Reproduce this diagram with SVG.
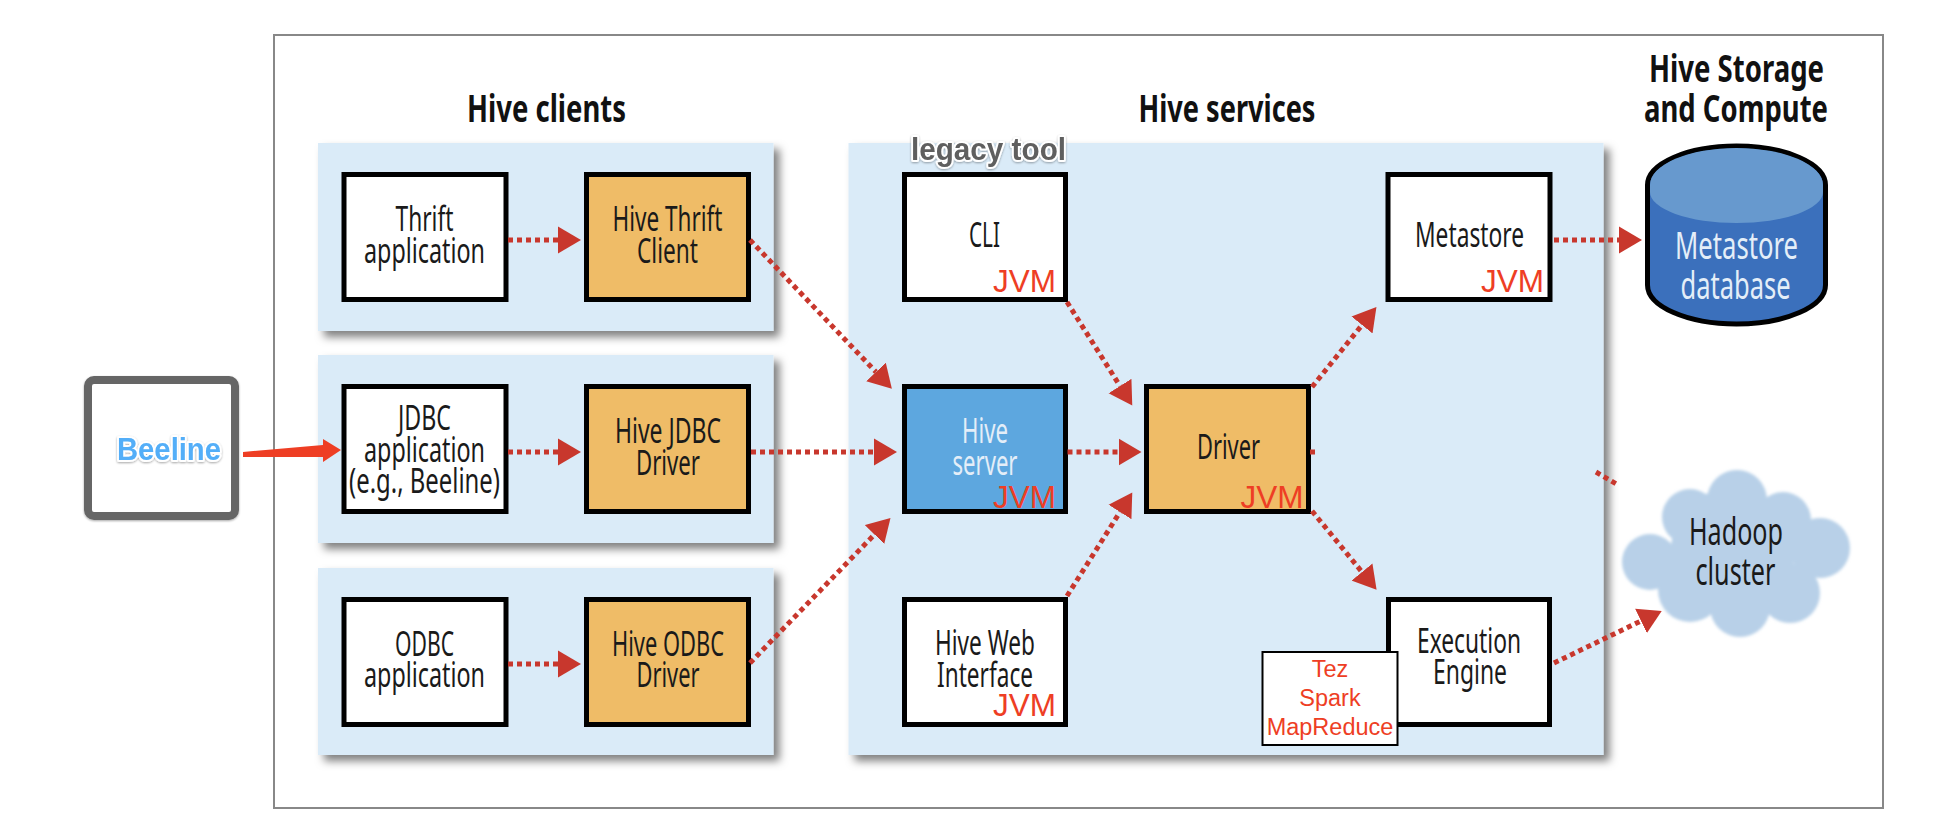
<svg xmlns="http://www.w3.org/2000/svg" width="1946" height="840" viewBox="0 0 1946 840">
<style>
text{font-family:"Noto Sans","Open Sans",sans-serif;font-size:34.5px;fill:#1a1a1a;text-anchor:middle;}
.h{font-weight:700;font-size:37px;fill:#111;}
.lt{fill:#e4eef8;}
.jvm{font-family:"Liberation Sans",Arial,sans-serif;font-size:31.5px;fill:#ee3e24;}
.eng{font-family:"Liberation Sans",Arial,sans-serif;font-size:23.5px;fill:#ee3e24;}
.halo{font-family:"Liberation Sans",Arial,sans-serif;font-weight:700;font-size:31px;stroke:#fff;stroke-width:4px;paint-order:stroke;stroke-linejoin:round;filter:url(#soft);}
.panel{fill:#daebf8;filter:url(#shadow);}
.box{stroke:#000;stroke-width:5;fill:#fff;}
.org{fill:#efbc67;}
.blu{fill:#5da7df;}
.dot{fill:none;stroke:#c8372d;stroke-width:5;stroke-dasharray:5 4;marker-end:url(#head);}
.stub{fill:none;stroke:#c8372d;stroke-width:5;stroke-dasharray:5 4;}
</style>
<defs>
<filter id="shadow" x="-10%" y="-10%" width="120%" height="120%"><feDropShadow dx="6" dy="6" stdDeviation="4.5" flood-color="#000" flood-opacity="0.5"/></filter>
<filter id="soft" x="-10%" y="-20%" width="120%" height="140%"><feDropShadow dx="0" dy="1" stdDeviation="1" flood-color="#000" flood-opacity="0.35"/></filter>
<filter id="blur" x="-5%" y="-5%" width="110%" height="110%"><feGaussianBlur stdDeviation="1.6"/></filter>
<marker id="head" markerUnits="userSpaceOnUse" markerWidth="24" markerHeight="28" refX="0" refY="14" orient="auto"><path d="M0 0.5L23 14L0 27.5Z" fill="#c8372d"/></marker>
</defs>
<rect width="1946" height="840" fill="#fff"/>
<rect id="frame" x="274" y="35" width="1609" height="773" fill="#fff" stroke="#888" stroke-width="2"/>

<g id="titles">
<text class="h" x="546.500" y="122" textLength="159" lengthAdjust="spacingAndGlyphs">Hive clients</text>
<text class="h" x="1227" y="122" textLength="177" lengthAdjust="spacingAndGlyphs">Hive services</text>
<text class="h" x="1736.500" y="82" textLength="175" lengthAdjust="spacingAndGlyphs">Hive Storage</text>
<text class="h" x="1736" y="122" textLength="184" lengthAdjust="spacingAndGlyphs">and Compute</text>
</g>

<g id="panels">
<rect class="panel" x="318" y="143" width="455.500" height="188"/>
<rect class="panel" x="318" y="355" width="455.500" height="188"/>
<rect class="panel" x="318" y="568" width="455.500" height="187"/>
<rect class="panel" x="848.500" y="143" width="755" height="612"/>
<rect x="1619" y="463" width="14" height="48" fill="#fff"/>
</g>

<g id="thrift-app"><rect class="box" x="344" y="174.500" width="162" height="125"/>
<text x="424.500" y="231" textLength="58" lengthAdjust="spacingAndGlyphs">Thrift</text>
<text x="424.500" y="263" textLength="121" lengthAdjust="spacingAndGlyphs">application</text></g>
<g id="thrift-client"><rect class="box org" x="586.500" y="174.500" width="162" height="125"/>
<text x="667.500" y="231" textLength="110" lengthAdjust="spacingAndGlyphs">Hive Thrift</text>
<text x="667.500" y="263" textLength="61" lengthAdjust="spacingAndGlyphs">Client</text></g>

<g id="jdbc-app"><rect class="box" x="344" y="386.500" width="162" height="125"/>
<text x="424.500" y="430" textLength="53" lengthAdjust="spacingAndGlyphs">JDBC</text>
<text x="424.500" y="462" textLength="121" lengthAdjust="spacingAndGlyphs">application</text>
<text x="424.500" y="493" textLength="151" lengthAdjust="spacingAndGlyphs">(e.g., Beeline)</text></g>
<g id="jdbc-driver"><rect class="box org" x="586.500" y="386.500" width="162" height="125"/>
<text x="668" y="443" textLength="106" lengthAdjust="spacingAndGlyphs">Hive JDBC</text>
<text x="668" y="475" textLength="64" lengthAdjust="spacingAndGlyphs">Driver</text></g>

<g id="odbc-app"><rect class="box" x="344" y="599.500" width="162" height="125"/>
<text x="424.500" y="656" textLength="59" lengthAdjust="spacingAndGlyphs">ODBC</text>
<text x="424.500" y="687" textLength="121" lengthAdjust="spacingAndGlyphs">application</text></g>
<g id="odbc-driver"><rect class="box org" x="586.500" y="599.500" width="162" height="125"/>
<text x="668" y="656" textLength="112" lengthAdjust="spacingAndGlyphs">Hive ODBC</text>
<text x="668" y="687" textLength="63" lengthAdjust="spacingAndGlyphs">Driver</text></g>

<g id="cli"><rect class="box" x="904.500" y="174.500" width="161" height="125"/>
<text x="984.500" y="247" textLength="31" lengthAdjust="spacingAndGlyphs">CLI</text>
<text class="jvm" x="1024.500" y="292">JVM</text></g>
<g id="legacy"><text class="halo" x="988.500" y="160" textLength="155" lengthAdjust="spacingAndGlyphs" style="fill:#5f5f5f">legacy tool</text></g>

<g id="hive-server"><rect class="box blu" x="904.500" y="386.500" width="161" height="125"/>
<text class="lt" x="985" y="443" textLength="46" lengthAdjust="spacingAndGlyphs">Hive</text>
<text class="lt" x="985" y="475" textLength="65" lengthAdjust="spacingAndGlyphs">server</text>
<text class="jvm" x="1024.500" y="508">JVM</text></g>

<g id="driver"><rect class="box org" x="1146.500" y="386.500" width="162" height="125"/>
<text x="1228.500" y="459" textLength="63" lengthAdjust="spacingAndGlyphs">Driver</text>
<text class="jvm" x="1272" y="508">JVM</text></g>

<g id="web"><rect class="box" x="904.500" y="599.500" width="161" height="125"/>
<text x="985" y="655" textLength="100" lengthAdjust="spacingAndGlyphs">Hive Web</text>
<text x="985" y="687" textLength="96" lengthAdjust="spacingAndGlyphs">Interface</text>
<text class="jvm" x="1024.500" y="716">JVM</text></g>

<g id="metastore"><rect class="box" x="1388" y="174.500" width="162" height="125"/>
<text x="1469.500" y="247" textLength="109" lengthAdjust="spacingAndGlyphs">Metastore</text>
<text class="jvm" x="1512.500" y="292">JVM</text></g>

<g id="exec"><rect class="box" x="1388.500" y="599.500" width="161" height="125"/>
<text x="1469" y="653" textLength="104" lengthAdjust="spacingAndGlyphs">Execution</text>
<text x="1470" y="684" textLength="74" lengthAdjust="spacingAndGlyphs">Engine</text></g>

<g id="engines"><rect x="1262.500" y="652" width="135" height="93" fill="#fff" stroke="#000" stroke-width="2"/>
<text class="eng" x="1330" y="677">Tez</text>
<text class="eng" x="1330" y="706">Spark</text>
<text class="eng" x="1330" y="735">MapReduce</text></g>

<g id="metastore-db">
<path d="M1647.500 185A89 39 0 0 1 1825.500 185V285A89 39 0 0 1 1647.500 285Z" fill="#3b70bc" stroke="#000" stroke-width="5"/>
<path d="M1650 185A86.500 37 0 0 1 1823 185V192A86.500 31 0 0 1 1650 192Z" fill="#6799ce"/>
<text class="lt" x="1736.500" y="259" style="font-size:38px" textLength="123" lengthAdjust="spacingAndGlyphs">Metastore</text>
<text class="lt" x="1735.500" y="299" style="font-size:38px" textLength="110" lengthAdjust="spacingAndGlyphs">database</text>
</g>

<g id="hadoop">
<g fill="#b8d0e8" filter="url(#blur)">
<circle cx="1737" cy="500" r="30"/><circle cx="1690" cy="517" r="28"/><circle cx="1783" cy="520" r="28"/><circle cx="1820" cy="548" r="30"/><circle cx="1650" cy="562" r="28"/><circle cx="1690" cy="590" r="32"/><circle cx="1740" cy="607" r="30"/><circle cx="1790" cy="593" r="30"/><circle cx="1733" cy="550" r="62"/>
</g>
<text x="1736" y="545" style="font-size:38px" textLength="94" lengthAdjust="spacingAndGlyphs">Hadoop</text>
<text x="1735.500" y="585" style="font-size:38px" textLength="80" lengthAdjust="spacingAndGlyphs">cluster</text>
</g>

<g id="beeline">
<rect x="88" y="380" width="147" height="136" rx="6" fill="#fff" stroke="#666" stroke-width="8" filter="url(#soft)"/>
<text class="halo" x="169" y="460" textLength="104" lengthAdjust="spacingAndGlyphs" style="fill:#52aef8">Beeline</text>
</g>

<g id="connectors">
<path class="dot" d="M508 240H558"/>
<path class="dot" d="M508 452H558"/>
<path class="dot" d="M508 664H558"/>
<path class="dot" d="M750 240L876 372"/>
<path class="dot" d="M751 452H874"/>
<path class="dot" d="M750 663L874.500 534.500"/>
<path class="dot" d="M1067 302L1120 386"/>
<path class="dot" d="M1067.500 452H1118.500"/>
<path class="dot" d="M1067 596L1120 512"/>
<path class="dot" d="M1312 387L1362 325"/>
<path class="dot" d="M1312 511L1362 572"/>
<path class="dot" d="M1554 240H1619"/>
<path class="dot" d="M1554 663L1641 621"/>
<path class="stub" d="M1310 452H1317"/>
<path class="stub" d="M1596 472L1618 485"/>
<polygon points="243,452 323,445 323,439 341,450 323,462 323,457 243,457" fill="#ee3e24"/>
</g>
</svg>
